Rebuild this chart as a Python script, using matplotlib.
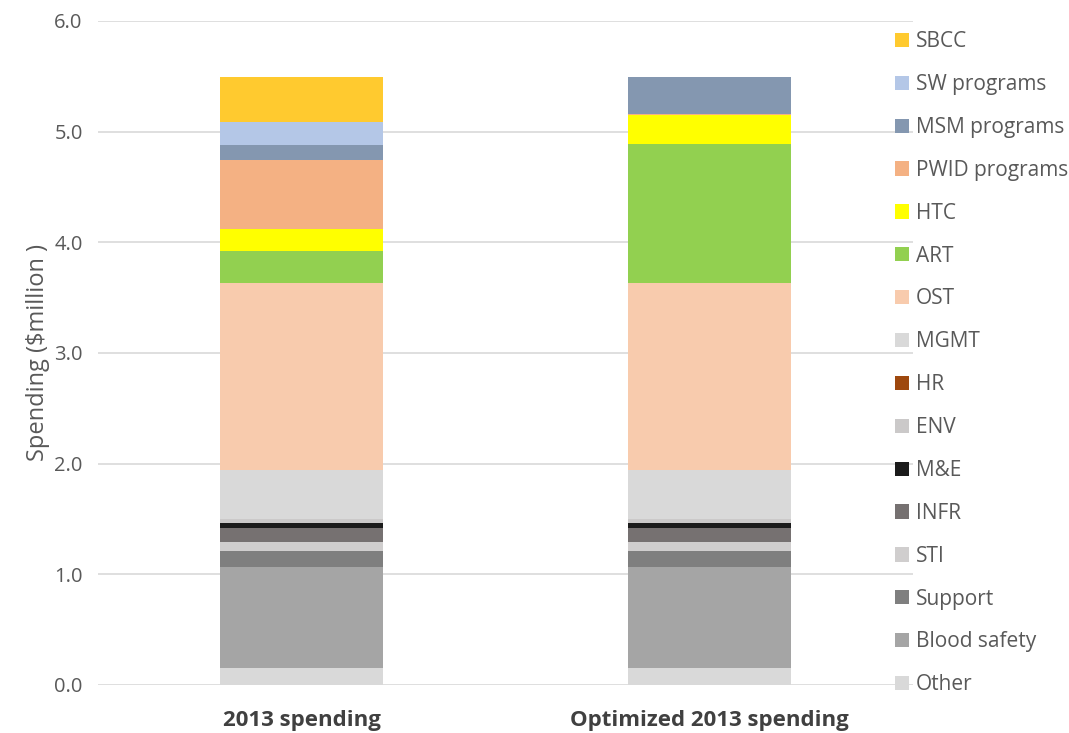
import matplotlib.pyplot as plt
import numpy as np
from matplotlib.patches import Patch

plt.rcParams['font.family'] = ['Open Sans', 'DejaVu Sans']

# Categories (x axis) and the stacked components, bottom to top
scenarios = ['2013 spending', 'Optimized 2013 spending']
programs = ['Other', 'Blood safety', 'Support', 'STI', 'INFR', 'M&E', 'ENV', 'HR',
            'MGMT', 'OST', 'ART', 'HTC', 'PWID programs', 'MSM programs',
            'SW programs', 'SBCC']
colors = ['#d9d9d9', '#a5a5a5', '#7f7f7f', '#d0cece', '#767171', '#1b1b1b', '#cbc9c9', '#9e480e',
          '#d9d9d9', '#f8cbad', '#92d050', '#ffff00', '#f4b183', '#8497b0',
          '#b4c7e7', '#ffca2f']

# values in $million, per scenario
spend_2013 = [0.15, 0.92, 0.145, 0.075, 0.13, 0.048, 0.033, 0.0,
              0.44, 1.69, 0.29, 0.196, 0.63, 0.136, 0.20, 0.41]
spend_opt = [0.15, 0.92, 0.145, 0.075, 0.13, 0.048, 0.033, 0.0,
             0.44, 1.69, 1.253, 0.268, 0.004, 0.34, 0.0, 0.0]

fig = plt.figure(figsize=(10.69, 7.33), dpi=100)
ax = fig.add_axes([0.0917, 0.0655, 0.7623, 0.9059])

x = np.arange(len(scenarios))
bottom = np.zeros(len(scenarios))
for name, col, v1, v2 in zip(programs, colors, spend_2013, spend_opt):
    vals = np.array([v1, v2])
    ax.bar(x, vals, 0.4, bottom=bottom, color=col, label=name, zorder=2)
    bottom += vals

ax.set_xlim(-0.5, 1.5)
ax.set_ylim(0, 6)
ax.set_yticks(np.arange(0, 6.1, 1.0))
ax.set_yticklabels([f'{t:.1f}' for t in np.arange(0, 6.1, 1.0)])
ax.set_xticks(x)
ax.set_xticklabels(scenarios, fontweight='bold', fontsize=16, color='#404040')
ax.tick_params(axis='y', labelsize=14.5, labelcolor='#595959', length=0, pad=11)
ax.tick_params(axis='x', length=0, pad=18)
ax.grid(axis='y', color='#d9d9d9', linewidth=1.2, zorder=0)
ax.set_axisbelow(True)
for s in ax.spines.values():
    s.set_visible(False)
ax.set_ylabel('Spending ($million )', fontsize=17, color='#595959', labelpad=3)

handles = [Patch(facecolor=c, label=p) for p, c in zip(programs, colors)][::-1]
fig.legend(handles=handles, loc='upper left', bbox_to_anchor=(0.82, 0.983),
           frameon=False, fontsize=15, handlelength=0.68, handleheight=0.68,
           handletextpad=0.3, labelspacing=1.05, labelcolor='#595959')

fig.savefig('out.png', dpi=100)
